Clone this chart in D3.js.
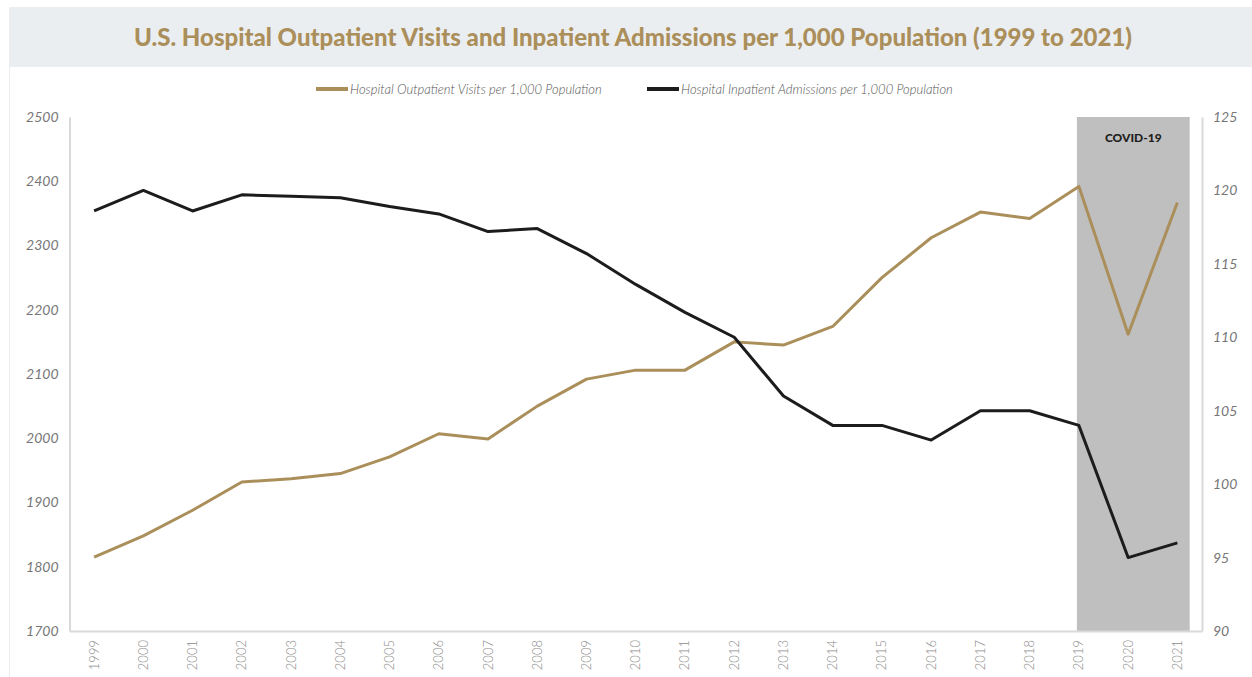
<!DOCTYPE html>
<html>
<head>
<meta charset="utf-8">
<script src="https://cdn.jsdelivr.net/npm/d3@7/dist/d3.min.js"></script>
<style>
  html, body { margin: 0; padding: 0; background: #ffffff; }
  svg { display: block; }
</style>
</head>
<body>
<svg id="chart" width="1252" height="677"></svg>
<script>
// Years on the category axis
const years = ["1999","2000","2001","2002","2003","2004","2005","2006","2007","2008","2009",
               "2010","2011","2012","2013","2014","2015","2016","2017","2018","2019","2020","2021"];

// Hospital outpatient visits per 1,000 population (left axis)
const outpatient = [1815, 1848, 1888, 1932, 1937, 1945, 1971, 2007, 1999, 2050, 2092,
                    2106, 2106, 2150, 2145, 2174, 2250, 2312, 2352, 2342, 2392, 2162, 2367];

// Hospital inpatient admissions per 1,000 population (right axis)
const inpatient = [118.6, 120.0, 118.6, 119.7, 119.6, 119.5, 118.9, 118.4, 117.2, 117.4, 115.7,
                   113.6, 111.7, 110.0, 106.0, 104.0, 104.0, 103.0, 105.0, 105.0, 104.0, 95.0, 96.0];

const leftTicks = [1700, 1800, 1900, 2000, 2100, 2200, 2300, 2400, 2500];
const rightTicks = [90, 95, 100, 105, 110, 115, 120, 125];

// Shaded pandemic period
const covidYears = ["2019", "2021"];
const covidLabel = "COVID-19";

const titleText = "U.S. Hospital Outpatient Visits and Inpatient Admissions per 1,000 Population (1999 to 2021)";
const seriesNames = ["Hospital Outpatient Visits per 1,000 Population",
                     "Hospital Inpatient Admissions per 1,000 Population"];

const gold = "#ab8f5b";
const dark = "#1c1c1c";
const axisGray = "#d9d9d9";
const labelGray = "#767676";

const svg = d3.select("#chart");
const W = 1252, H = 677;
const plot = { left: 69.5, right: 1202, top: 117, bottom: 631 };

// Outer frame and title band
svg.append("rect")
  .attr("x", 9.5).attr("y", 7.5).attr("width", W).attr("height", H)
  .attr("fill", "none").attr("stroke", "#ececec").attr("stroke-width", 1);
svg.append("rect")
  .attr("x", 9.5).attr("y", 7).attr("width", W - 9.5).attr("height", 60)
  .attr("fill", "#ebeef1");
svg.append("text")
  .attr("x", 633).attr("y", 46)
  .attr("text-anchor", "middle")
  .attr("font-family", "Lato, 'Open Sans', sans-serif")
  .attr("font-weight", 900)
  .attr("font-size", 24)
  .attr("fill", gold)
  .text(titleText);

// Scales
const x = d3.scalePoint().domain(years).range([plot.left, plot.right]).padding(0.5);
const step = x.step();
const yL = d3.scaleLinear().domain([1700, 2500]).range([plot.bottom, plot.top]);
const yR = d3.scaleLinear().domain([90, 125]).range([plot.bottom, plot.top]);

// COVID shading
const cx0 = x(covidYears[0]) - 2;
const cx1 = x(covidYears[1]) + step * 0.25;
svg.append("rect")
  .attr("x", cx0).attr("y", plot.top)
  .attr("width", cx1 - cx0).attr("height", plot.bottom - plot.top)
  .attr("fill", "#bfbfbf");
svg.append("text")
  .attr("x", (cx0 + cx1) / 2).attr("y", 142)
  .attr("text-anchor", "middle")
  .attr("font-family", "Lato, 'Open Sans', sans-serif")
  .attr("font-weight", 900)
  .attr("font-size", 12)
  .attr("fill", "#1e1e1e")
  .text(covidLabel);

// Axes
const fmt = d3.format("d");
const axisLeft = d3.axisLeft(yL).tickValues(leftTicks).tickFormat(fmt).tickSize(0).tickPadding(11);
const axisRight = d3.axisRight(yR).tickValues(rightTicks).tickFormat(fmt).tickSize(0).tickPadding(11);
const axisBottom = d3.axisBottom(x).tickSize(0).tickPadding(0);

function styleAxis(g) {
  g.select(".domain").attr("stroke", axisGray).attr("stroke-width", 2);
  g.selectAll("text")
    .attr("font-family", "Lato, 'Open Sans', sans-serif")
    .attr("font-style", "italic")
    .attr("font-weight", 400)
    .attr("font-size", 14)
    .attr("fill", labelGray);
}

svg.append("g").attr("transform", `translate(${plot.left},0)`).call(axisLeft).call(styleAxis);
svg.append("g").attr("transform", `translate(${plot.right},0)`).call(axisRight).call(styleAxis);

const gx = svg.append("g").attr("transform", `translate(0,${plot.bottom})`).call(axisBottom);
gx.select(".domain").attr("stroke", axisGray).attr("stroke-width", 2);
gx.selectAll("text")
  .attr("font-family", "Lato, 'Open Sans', sans-serif")
  .attr("font-weight", 300)
  .attr("font-size", 13)
  .attr("fill", "#8a8a8a")
  .attr("text-anchor", "end")
  .attr("dy", null)
  .attr("transform", "translate(4,9) rotate(-90)")
  .attr("y", 0).attr("x", 0);

// Lines
const lineL = d3.line().x((d, i) => x(years[i])).y(d => yL(d));
const lineR = d3.line().x((d, i) => x(years[i])).y(d => yR(d));

svg.append("path").datum(outpatient)
  .attr("d", lineL).attr("fill", "none")
  .attr("stroke", gold).attr("stroke-width", 3).attr("stroke-linejoin", "round");
svg.append("path").datum(inpatient)
  .attr("d", lineR).attr("fill", "none")
  .attr("stroke", dark).attr("stroke-width", 3).attr("stroke-linejoin", "round");

// Legend
const legend = [
  { name: seriesNames[0], color: gold, x: 316 },
  { name: seriesNames[1], color: dark, x: 647 }
];
const lg = svg.append("g");
legend.forEach(l => {
  lg.append("line")
    .attr("x1", l.x).attr("x2", l.x + 32)
    .attr("y1", 89).attr("y2", 89)
    .attr("stroke", l.color).attr("stroke-width", 4);
  lg.append("text")
    .attr("x", l.x + 34).attr("y", 93.5)
    .attr("font-family", "Lato, 'Open Sans', sans-serif")
    .attr("font-style", "italic")
    .attr("font-weight", 300)
    .attr("font-size", 13)
    .attr("fill", "#555")
    .text(l.name);
});
</script>
</body>
</html>
